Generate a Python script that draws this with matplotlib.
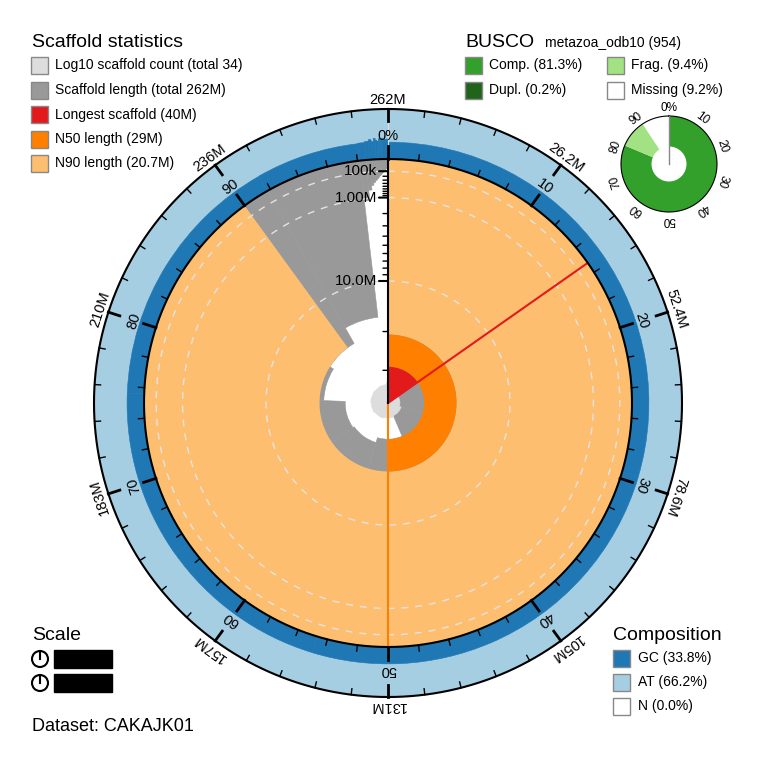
import numpy as np
import matplotlib.pyplot as plt
from matplotlib.patches import Rectangle, Circle

plt.rcParams['font.family'] = ['Liberation Sans', 'DejaVu Sans']

# scaffold lengths in Mb (sorted) and GC fraction per scaffold
scaffold_mb = [40.0, 37.5, 36.8, 29.0, 27.6, 27.2, 21.7, 20.7, 16.7,
               1.1, 0.62, 0.45, 0.36, 0.30, 0.26, 0.22, 0.19, 0.17, 0.15,
               0.13, 0.12, 0.11, 0.10, 0.09, 0.08, 0.07, 0.06, 0.055, 0.05,
               0.045, 0.04, 0.035, 0.03, 0.025]
scaffold_gc = [0.337, 0.338, 0.339, 0.338, 0.337, 0.339, 0.338, 0.337, 0.341,
               0.35, 0.37, 0.40, 0.36, 0.42, 0.38, 0.36, 0.41, 0.39, 0.37,
               0.42, 0.38, 0.36, 0.40, 0.41, 0.37, 0.39, 0.35, 0.40, 0.37,
               0.38, 0.40, 0.36, 0.35, 0.36]

busco_lineage = 'metazoa_odb10 (954)'
busco_labels = ['Comp.', 'Dupl.', 'Frag.', 'Missing']
busco_pct = [81.3, 0.2, 9.4, 9.2]

comp_labels = ['GC', 'AT', 'N']
comp_pct = [33.8, 66.2, 0.0]

length_ticks_mb = [0.1, 1.0, 10.0]
length_tick_labels = ['100k', '1.00M', '10.0M']
length_minor_mb = [0.2, 0.3, 0.4, 0.5, 0.6, 0.7, 0.8, 0.9,
                   2, 3, 4, 5, 6, 7, 8, 9, 20, 30]
pct_ticks = [0, 10, 20, 30, 40, 50, 60, 70, 80, 90]
pct_labels = ['0%', '10', '20', '30', '40', '50', '60', '70', '80', '90']
span_labels = ['262M', '26.2M', '52.4M', '78.6M', '105M', '131M',
               '157M', '183M', '210M', '236M']
busco_tick_labels = ['0%', '10', '20', '30', '40', '50', '60', '70', '80', '90']
dataset = 'CAKAJK01'

# colours
c_count, c_len, c_long, c_n50, c_n90 = '#dddddd', '#999999', '#e31a1c', '#ff7f00', '#fdbf6f'
c_gc, c_at, c_n = '#1f78b4', '#a6cee3', '#ffffff'
c_comp, c_dupl, c_frag, c_miss = '#33a02c', '#20641c', '#a3e283', '#ffffff'

W, H = 761, 769
CX, CY = 388, 403
R, R_OUT, RM = 244, 294, 330


def ang(p):
    return np.deg2rad(np.asarray(p) * 3.6)


lengths = np.array(scaffold_mb)
total = lengths.sum()
lmax = lengths.max()
csum = np.cumsum(lengths)
n50 = lengths[np.searchsorted(csum, total * 0.5)]
n90 = lengths[np.searchsorted(csum, total * 0.9)]
cum_pct = np.concatenate([[0], csum]) / total * 100
starts = ang(cum_pct[:-1])
widths = ang(cum_pct[1:]) - starts


def len_r(mb):
    return R * (1 - np.sqrt(np.asarray(mb) / lmax))


fig = plt.figure(figsize=(W / 100, H / 100), dpi=100)
lax = fig.add_axes([0, 0, 1, 1])
lax.set_xlim(0, W)
lax.set_ylim(H, 0)
lax.axis('off')

ax = fig.add_axes([(CX - RM) / W, (H - CY - RM) / H, 2 * RM / W, 2 * RM / H], projection='polar')
ax.set_theta_zero_location('N')
ax.set_theta_direction(-1)
ax.set_ylim(0, RM)
ax.axis('off')

# scaffold length
r_len = len_r(lengths)
ax.bar(starts, R - r_len, width=widths, bottom=r_len, align='edge',
       color=c_len, edgecolor=c_len, lw=0.4)
# N90
ax.bar(0, R - len_r(n90), width=ang(90), bottom=len_r(n90), align='edge', color=c_n90, lw=0)
# log10 count spiral
idx = np.arange(1, len(lengths) + 1)
r_cnt = 9 + 15 * np.log10(idx) / np.log10(len(lengths))
ax.bar(starts, r_cnt, width=widths, bottom=0, align='edge', color=c_count, edgecolor=c_count, lw=0.4)
# N50 and longest
ax.bar(0, len_r(n90) - len_r(n50), width=ang(50), bottom=len_r(n50), align='edge', color=c_n50, lw=0)
ax.bar(0, len_r(n50), width=ang(100 * lmax / total), bottom=0, align='edge', color=c_long, lw=0)

th = np.linspace(0, 2 * np.pi, 1441)
for v in length_ticks_mb:
    ax.plot(th, np.full_like(th, len_r(v)), color='#e3e3e3', lw=1, ls=(0, (5, 5)))

ax.plot([ang(100 * lmax / total)] * 2, [0, R], color=c_long, lw=1.5)
ax.plot([ang(50)] * 2, [0, R], color=c_n50, lw=1.5)

# composition ring
ax.bar(0, R_OUT - R, width=2 * np.pi, bottom=R, align='edge', color=c_at, lw=0)
gc_h = (R_OUT - R) * np.array(scaffold_gc)
ax.bar(starts, gc_h, width=widths, bottom=R, align='edge', color=c_gc, edgecolor=c_gc, lw=0.4)
ax.plot([0, 0], [R, R_OUT], color='#dddddd', lw=0.8)
ax.plot(th, np.full_like(th, R), color='k', lw=1.5)
ax.plot(th, np.full_like(th, R_OUT), color='k', lw=1.5)

for k in range(50):
    t = ang(k * 2)
    major = k % 5 == 0
    ax.plot([t, t], [R, R + (13 if major else 6)], color='k', lw=2 if major else 1)
    ax.plot([t, t], [R_OUT - (12 if major else 6), R_OUT], color='k', lw=2 if major else 1)

for p, lab_in, lab_out in zip(pct_ticks, pct_labels, span_labels):
    t = ang(p)
    ax.text(t, 267, lab_in, rotation=-p * 3.6, rotation_mode='anchor',
            ha='center', va='center', fontsize=10.5)
    ax.text(t, 303, lab_out, rotation=-p * 3.6, rotation_mode='anchor',
            ha='center', va='center', fontsize=10.5)

# length axis
ax.plot([0, 0], [0, R], color='k', lw=1.5)
for v in length_minor_mb:
    ax.annotate('', xy=(0, len_r(v)), xytext=(-5, 0), textcoords='offset pixels',
                arrowprops=dict(arrowstyle='-', color='k', lw=1, shrinkA=0, shrinkB=0))
for v, lab in zip(length_ticks_mb, length_tick_labels):
    ax.annotate('', xy=(0, len_r(v)), xytext=(-9, 0), textcoords='offset pixels',
                arrowprops=dict(arrowstyle='-', color='k', lw=1.5, shrinkA=0, shrinkB=0))
    ax.annotate(lab, xy=(0, len_r(v)), xytext=(-11, 0), textcoords='offset pixels',
                ha='right', va='center', fontsize=11)

# BUSCO donut
BX, BY, BR = 669, 164, 70
B_OUT, B_IN = 48, 17.5
bax = fig.add_axes([(BX - BR) / W, (H - BY - BR) / H, 2 * BR / W, 2 * BR / H], projection='polar')
bax.set_theta_zero_location('N')
bax.set_theta_direction(-1)
bax.set_ylim(0, BR)
bax.axis('off')
comp, dupl, frag, miss = busco_pct
bax.bar(0, B_OUT - B_IN, width=ang(comp), bottom=B_IN, align='edge', color=c_comp, lw=0)
bax.bar(0, B_OUT - B_IN, width=ang(dupl), bottom=B_IN, align='edge', color=c_dupl, lw=0)
bax.bar(ang(comp), B_OUT - B_IN, width=ang(frag), bottom=B_IN, align='edge', color=c_frag, lw=0)
bax.plot(th, np.full_like(th, B_OUT), color='k', lw=0.8)
bax.plot([0, 0], [0, B_OUT], color='#888888', lw=1)
for p, lab in zip(pct_ticks, busco_tick_labels):
    bax.text(ang(p), 56, lab, rotation=-p * 3.6, rotation_mode='anchor',
             ha='center', va='center', fontsize=8.5)

# legends
def box(x, y, color):
    lax.add_patch(Rectangle((x, y), 17, 17, facecolor=color, edgecolor='#888888', lw=1))


lax.text(32, 47, 'Scaffold statistics', fontsize=14)
stat_labels = [f'Log10 scaffold count (total {len(lengths)})',
               f'Scaffold length (total {total:.0f}M)',
               f'Longest scaffold ({lmax:g}M)',
               f'N50 length ({n50:g}M)',
               f'N90 length ({n90:g}M)']
for i, (lab, col) in enumerate(zip(stat_labels, [c_count, c_len, c_long, c_n50, c_n90])):
    y = 57 + 24.5 * i
    box(31, y, col)
    lax.text(55, y + 8.5, lab, va='center', fontsize=10)

lax.text(465, 47, 'BUSCO', fontsize=14)
lax.text(545, 47, busco_lineage, fontsize=10)
busco_cols = [c_comp, c_dupl, c_frag, c_miss]
busco_pos = [(465, 57), (465, 81.5), (607, 57), (607, 81.5)]
for lab, v, col, (x, y) in zip(busco_labels, busco_pct, busco_cols, busco_pos):
    box(x, y, col)
    lax.text(x + 24, y + 8.5, f'{lab} ({v}%)', va='center', fontsize=10)

lax.text(613, 640, 'Composition', fontsize=14)
for i, (lab, v, col) in enumerate(zip(comp_labels, comp_pct, [c_gc, c_at, c_n])):
    y = 649.5 + 24 * i
    box(613, y, col)
    lax.text(638, y + 8.5, f'{lab} ({v}%)', va='center', fontsize=10)

lax.text(32, 640, 'Scale', fontsize=14)
for y in [659, 683]:
    lax.add_patch(Circle((40, y), 8, facecolor='none', edgecolor='k', lw=1.5))
    lax.plot([40, 40], [y, y - 8], color='k', lw=1.5)
    lax.add_patch(Rectangle((54, y - 9), 58, 18, facecolor='k', edgecolor='k'))

lax.text(32, 731, f'Dataset: {dataset}', fontsize=13)

fig.savefig('out.png', dpi=100)
